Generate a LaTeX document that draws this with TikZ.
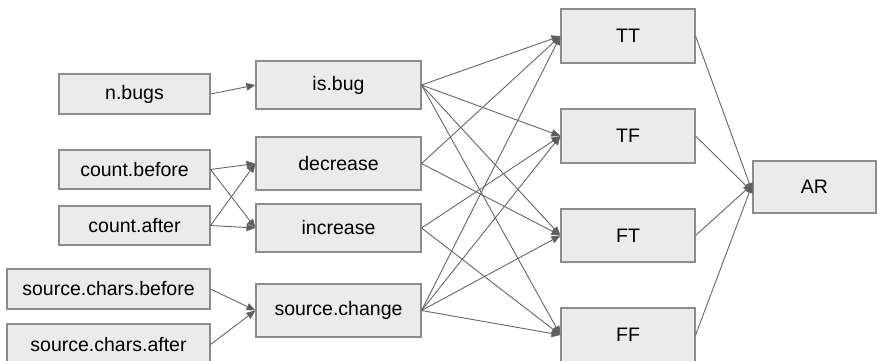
\documentclass[tikz,border=0pt]{standalone}
\usepackage{fontspec}
\setmainfont{Liberation Sans}
\usetikzlibrary{arrows.meta}
\definecolor{boxfill}{HTML}{EBEBEB}
\definecolor{boxline}{HTML}{8C8C8C}
\definecolor{wire}{HTML}{666666}
\begin{document}
\begin{tikzpicture}[x=1pt,y=-1pt,
  box/.style={draw=boxline, line width=1.1pt, fill=boxfill, inner sep=0pt,
    font=\fontsize{19.5}{23}\selectfont, text=black},
  link/.style={draw=wire, line width=0.9pt,
    -{Triangle[length=9pt,width=7.5pt,fill=wire!90!black]}}]
\useasboundingbox (0,0) rectangle (877,360);

% inputs
\node[box, minimum width=151pt, minimum height=40pt] (nbugs) at (134.5,94) {n.bugs};
\node[box, minimum width=151pt, minimum height=39pt] (cbefore) at (134.5,169.5) {count.before};
\node[box, minimum width=151pt, minimum height=39pt] (cafter) at (134.5,225.5) {count.after};
\node[box, minimum width=203pt, minimum height=40pt] (scbefore) at (108.5,289) {source.chars.before};
\node[box, minimum width=203pt, minimum height=41pt] (scafter) at (108.5,344.5) {source.chars.after};

% derived features
\node[box, minimum width=165pt, minimum height=48pt] (isbug) at (338.5,85) {is.bug};
\node[box, minimum width=165pt, minimum height=53pt] (decr) at (338.5,163.5) {decrease};
\node[box, minimum width=165pt, minimum height=48pt] (incr) at (338.5,228) {increase};
\node[box, minimum width=165pt, minimum height=53pt] (schange) at (338.5,310.5) {source.change};

% combinations
\node[box, minimum width=134pt, minimum height=54pt] (TT) at (628,36) {TT};
\node[box, minimum width=134pt, minimum height=54pt] (TF) at (628,136) {TF};
\node[box, minimum width=134pt, minimum height=53pt] (FT) at (628,235.5) {FT};
\node[box, minimum width=134pt, minimum height=54pt] (FF) at (628,335) {FF};

% result
\node[box, minimum width=123pt, minimum height=52pt] (AR) at (814.5,187) {AR};

% input -> feature
\draw[link] (nbugs.east) -- (isbug.west);
\draw[link] (cbefore.east) -- (decr.west);
\draw[link] (cbefore.east) -- (incr.west);
\draw[link] (cafter.east) -- (decr.west);
\draw[link] (cafter.east) -- (incr.west);
\draw[link] (scbefore.east) -- (schange.west);
\draw[link] (scafter.east) -- (schange.west);

% feature -> combination
\foreach \t in {TT,TF,FT,FF} {
  \draw[link] (isbug.east) -- (\t.west);
  \draw[link] (schange.east) -- (\t.west);
}
\draw[link] (decr.east) -- (TT.west);
\draw[link] (decr.east) -- (FT.west);
\draw[link] (incr.east) -- (TF.west);
\draw[link] (incr.east) -- (FF.west);

% combination -> result
\draw[link] (TT.east) -- ([yshift=-5pt]AR.west);
\draw[link] (TF.east) -- ([yshift=-5pt]AR.west);
\draw[link] (FT.east) -- ([yshift=3pt]AR.west);
\draw[link] (FF.east) -- ([yshift=3pt]AR.west);
\end{tikzpicture}
\end{document}
